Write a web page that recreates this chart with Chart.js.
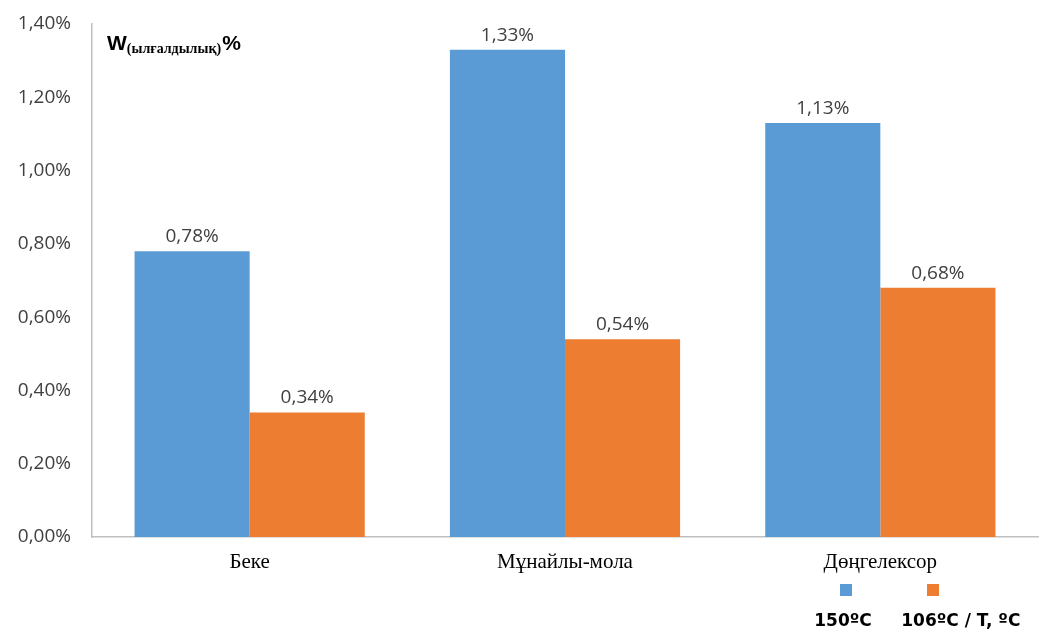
<!DOCTYPE html>
<html>
<head>
<meta charset="utf-8">
<script src="https://cdn.jsdelivr.net/npm/chart.js@4/dist/chart.umd.min.js"></script>
<style>
  body { margin: 0; background: #fff; }
  #wrap { position: relative; width: 1039px; height: 632px; }
</style>
</head>
<body>
<div id="wrap"><canvas id="myChart" width="1039" height="632"></canvas></div>
<script>
const categories = ['Беке', 'Мұнайлы-мола', 'Дөңгелексор'];
const series150 = [0.78, 1.33, 1.13];
const series106 = [0.34, 0.54, 0.68];
const seriesNames = ['150ºC', '106ºC / T, ºC'];
const seriesColors = ['#5B9BD5', '#ED7D31'];

const fmt = v => v.toFixed(2).replace('.', ',') + '%';

// labels over each bar
const barValues = {
  id: 'barValues',
  afterDatasetsDraw(chart) {
    const ctx = chart.ctx;
    ctx.save();
    ctx.font = '19px "Open Sans"';
    ctx.fillStyle = '#404040';
    ctx.textAlign = 'center';
    ctx.textBaseline = 'bottom';
    chart.data.datasets.forEach((ds, i) => {
      chart.getDatasetMeta(i).data.forEach((bar, j) => {
        ctx.fillText(fmt(ds.data[j]), bar.x, bar.y - 5);
      });
    });
    ctx.restore();
  }
};

// axis title in the top-left corner
const axisTitle = {
  id: 'axisTitle',
  afterDraw(chart) {
    const ctx = chart.ctx;
    const x = chart.chartArea.left + 15, y = chart.chartArea.top + 26;
    ctx.save();
    ctx.fillStyle = '#000';
    ctx.textBaseline = 'alphabetic';
    ctx.font = 'bold 21px "Liberation Sans"';
    ctx.fillText('W', x, y);
    let w = ctx.measureText('W').width;
    ctx.font = 'bold 14px "Liberation Serif"';
    ctx.fillText('(ылғалдылық)', x + w, y + 3);
    w += ctx.measureText('(ылғалдылық)').width;
    ctx.font = 'bold 21px "Liberation Sans"';
    ctx.fillText('%', x + w + 1, y);
    ctx.restore();
  }
};

// legend: squares with text underneath
const bottomLegend = {
  id: 'bottomLegend',
  afterDraw(chart) {
    const ctx = chart.ctx;
    const centers = [846, 933];
    ctx.save();
    chart.data.datasets.forEach((ds, i) => {
      const cx = centers[i];
      ctx.fillStyle = ds.backgroundColor;
      ctx.fillRect(cx - 6, 584, 12, 12);
      ctx.font = 'bold 17px "DejaVu Sans"';
      ctx.fillStyle = '#000';
      ctx.textBaseline = 'middle';
      const first = ds.label.split(' ')[0];
      const fw = ctx.measureText(first).width;
      ctx.textAlign = 'left';
      ctx.fillText(ds.label, cx - fw / 2 - 3, 622);
    });
    ctx.restore();
  }
};

new Chart(document.getElementById('myChart'), {
  type: 'bar',
  data: {
    labels: categories,
    datasets: [
      { label: seriesNames[0], data: series150, backgroundColor: seriesColors[0] },
      { label: seriesNames[1], data: series106, backgroundColor: seriesColors[1] }
    ]
  },
  options: {
    responsive: false,
    animation: false,
    layout: { padding: { top: 24, right: 1, bottom: 0, left: 0 } },
    datasets: { bar: { categoryPercentage: 0.73, barPercentage: 1.0 } },
    plugins: { legend: { display: false }, tooltip: { enabled: false } },
    scales: {
      x: {
        grid: { display: false, drawTicks: false },
        border: { color: '#BFBFBF', width: 1.5 },
        ticks: { color: '#000', font: { family: '"Liberation Serif"', size: 21 }, padding: 13 },
        afterFit(s) { s.height = 95; }
      },
      y: {
        min: 0, max: 1.4,
        grid: { display: false, drawTicks: false },
        border: { color: '#BFBFBF', width: 1.5 },
        ticks: {
          stepSize: 0.2,
          color: '#404040',
          font: { family: '"Open Sans"', size: 19 },
          padding: 21,
          callback: v => fmt(v)
        },
        afterFit(s) { s.width = 92; s.paddingTop = 0; }
      }
    }
  },
  plugins: [barValues, axisTitle, bottomLegend]
});
</script>
</body>
</html>
